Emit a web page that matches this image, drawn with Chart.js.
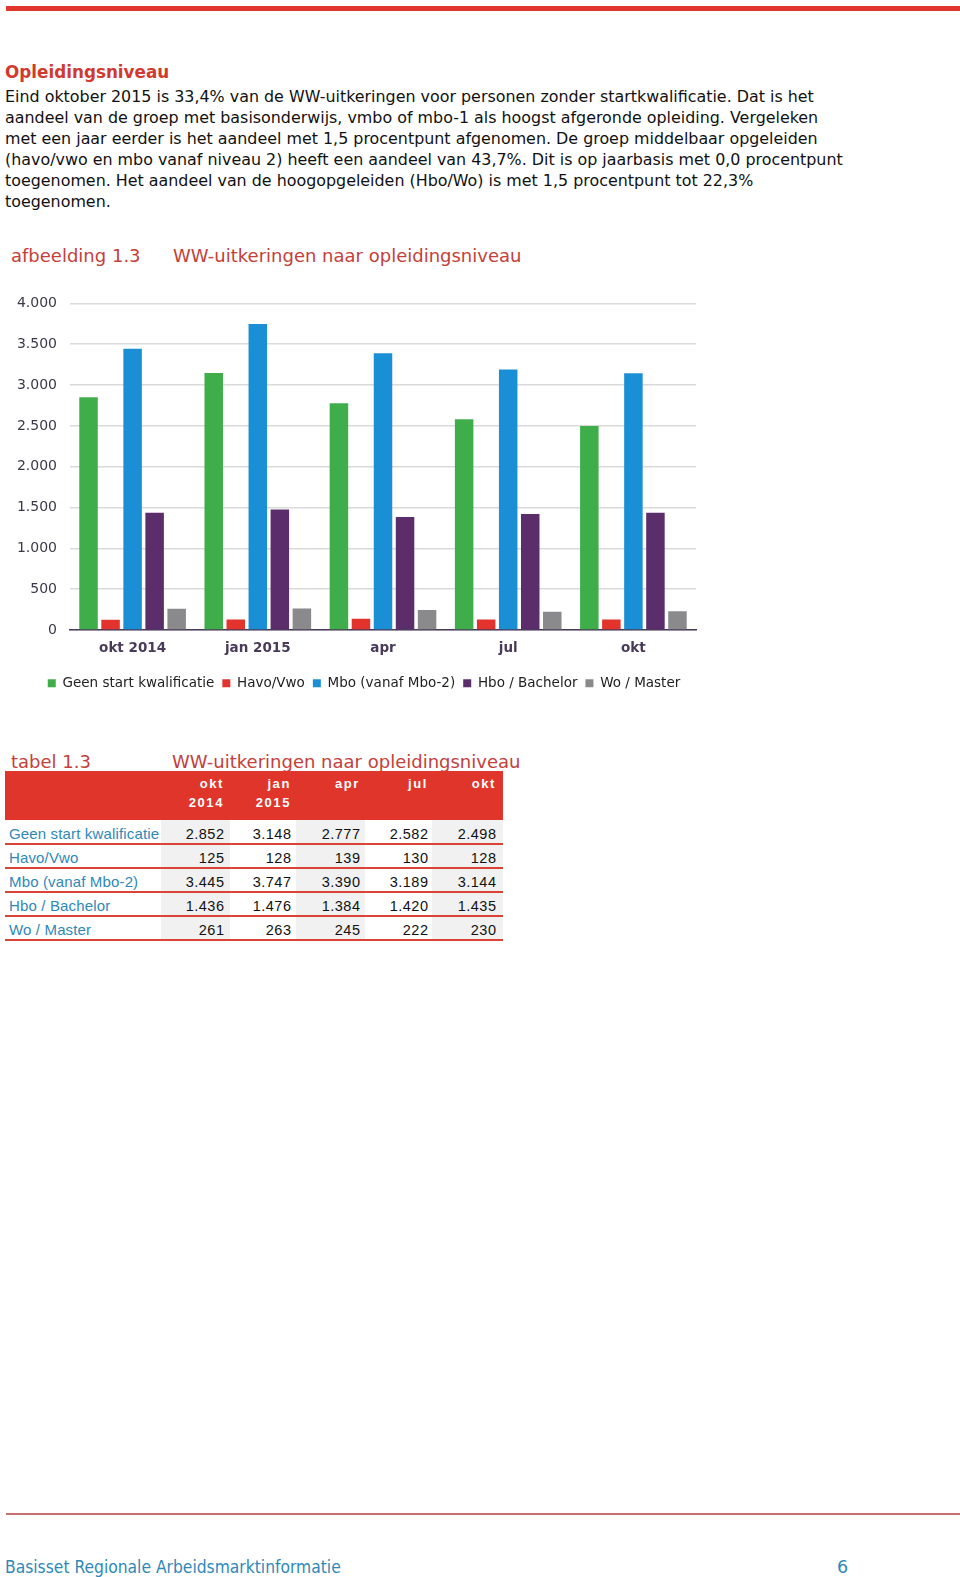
<!DOCTYPE html>
<html>
<head>
<meta charset="utf-8">
<script src="https://cdn.jsdelivr.net/npm/chart.js@4/dist/chart.umd.min.js"></script>
<style>
  html, body { margin:0; padding:0; background:#fff; }
  body { width:960px; height:1577px; position:relative; overflow:hidden; }
  .abs { position:absolute; white-space:nowrap; }
  #topbar { left:6px; top:6px; width:954px; height:5px; background:#e0362c; }
  #heading { left:5px; top:62px; font:bold 16.8px "DejaVu Sans",sans-serif; color:#d13a2e; line-height:21px; }
  #para { left:5px; top:87px; font:15.9px "DejaVu Sans",sans-serif; color:#111; line-height:20.9px; }
  .ctitle { font:18px "DejaVu Sans",sans-serif; color:#c4403a; line-height:20px; }
  #chartWrap { left:0px; top:282px; width:724px; height:418px; }
  #tbl { left:5px; top:771px; width:498px; }
  .hdr { position:absolute; left:0; top:0; width:498px; height:49px; background:#e0352b; }
  .hcell { position:absolute; color:#fff; font:bold 13px "Liberation Sans",Arial,sans-serif; letter-spacing:1.6px; text-align:right; line-height:19px; }
  .rline { position:absolute; left:0; width:498px; height:2px; background:#d9433a; }
  .lab { position:absolute; left:4px; font:15px "Liberation Sans",Arial,sans-serif; letter-spacing:0.15px; color:#2f88b8; line-height:24px; }
  .num { position:absolute; font:14.5px "Liberation Sans",Arial,sans-serif; color:#111; text-align:right; line-height:24px; letter-spacing:0.5px; }
  .gray { position:absolute; background:#f1f1f1; }
  #footline { left:6px; top:1513px; width:954px; height:2px; background:#c9706e; }
  #foot { left:5px; top:1556px; font:17.3px "DejaVu Sans Condensed","DejaVu Sans",sans-serif; color:#2f88b8; line-height:22px; }
  #pnum { left:837px; top:1556px; font:17.5px "DejaVu Sans",sans-serif; color:#2f88b8; line-height:22px; }
</style>
</head>
<body>
<script>
// ---- data ----
const categories = ['okt 2014', 'jan 2015', 'apr', 'jul', 'okt'];
const headerLabels = [['okt', '2014'], ['jan', '2015'], ['apr', ''], ['jul', ''], ['okt', '']];
const seriesNames = ['Geen start kwalificatie', 'Havo/Vwo', 'Mbo (vanaf Mbo-2)', 'Hbo / Bachelor', 'Wo / Master'];
const geenStart = [2852, 3148, 2777, 2582, 2498];
const havoVwo = [125, 128, 139, 130, 128];
const mbo = [3445, 3747, 3390, 3189, 3144];
const hboBachelor = [1436, 1476, 1384, 1420, 1435];
const woMaster = [261, 263, 245, 222, 230];
const yTicks = [0, 500, 1000, 1500, 2000, 2500, 3000, 3500, 4000];
</script>

<div class="abs" id="topbar"></div>
<div class="abs" id="heading">Opleidingsniveau</div>
<div class="abs" id="para">Eind oktober 2015 is 33,4% van de WW-uitkeringen voor personen zonder startkwalificatie. Dat is het<br>aandeel van de groep met basisonderwijs, vmbo of mbo-1 als hoogst afgeronde opleiding. Vergeleken<br>met een jaar eerder is het aandeel met 1,5 procentpunt afgenomen. De groep middelbaar opgeleiden<br>(havo/vwo en mbo vanaf niveau 2) heeft een aandeel van 43,7%. Dit is op jaarbasis met 0,0 procentpunt<br>toegenomen. Het aandeel van de hoogopgeleiden (Hbo/Wo) is met 1,5 procentpunt tot 22,3%<br>toegenomen.</div>

<div class="abs ctitle" style="left:11px; top:246px;">afbeelding 1.3</div>
<div class="abs ctitle" style="left:173px; top:246px;">WW-uitkeringen naar opleidingsniveau</div>

<div class="abs" id="chartWrap"><canvas id="c" width="724" height="418"></canvas></div>

<div class="abs ctitle" style="left:11px; top:752px;">tabel 1.3</div>
<div class="abs ctitle" style="left:172px; top:752px;">WW-uitkeringen naar opleidingsniveau</div>
<div class="abs" id="tbl"></div>

<div class="abs" id="footline"></div>
<div class="abs" id="foot">Basisset Regionale Arbeidsmarktinformatie</div>
<div class="abs" id="pnum">6</div>

<script>
const colors = ['#3fae4a', '#e2342c', '#1b8fd5', '#5c2d6b', '#8a8a8c'];
const allSeries = [geenStart, havoVwo, mbo, hboBachelor, woMaster];

function fmt(v) {
  return String(v).replace(/\B(?=(\d{3})+(?!\d))/g, '.');
}

// ---- table ----
const tbl = document.getElementById('tbl');
const colRight = [219, 286, 355, 423, 491];
const colBounds = [[156, 225], [225, 291], [291, 360], [360, 427], [427, 498]];
let html = '<div class="hdr"></div>';
headerLabels.forEach((h, i) => {
  html += '<div class="hcell" style="right:' + (498 - colRight[i]) + 'px; top:3px;">' + h[0] + '<br>' + h[1] + '</div>';
});
[0, 2, 4].forEach(ci => {
  html += '<div class="gray" style="left:' + colBounds[ci][0] + 'px; width:' + (colBounds[ci][1] - colBounds[ci][0]) + 'px; top:49px; height:120px;"></div>';
});
seriesNames.forEach((name, r) => {
  const top = 51 + r * 24;
  html += '<div class="lab" style="top:' + top + 'px;">' + name + '</div>';
  allSeries[r].forEach((v, ci) => {
    html += '<div class="num" style="top:' + top + 'px; right:' + (498 - colRight[ci] - 0.5) + 'px;">' + fmt(v) + '</div>';
  });
  html += '<div class="rline" style="top:' + (top + 21) + 'px;"></div>';
});
tbl.innerHTML = html;

// ---- chart ----
const legendShift = {
  id: 'legendShift',
  afterLayout(chart) {
    const l = chart.legend;
    if (l) { l.left += 7.5; l.right += 7.5; }
  }
};

const ctx = document.getElementById('c').getContext('2d');
new Chart(ctx, {
  type: 'bar',
  data: {
    labels: categories,
    datasets: seriesNames.map((n, i) => ({
      label: n,
      data: allSeries[i],
      backgroundColor: colors[i],
      borderWidth: 0,
      barPercentage: 0.84,
      categoryPercentage: 0.88
    }))
  },
  plugins: [legendShift],
  options: {
    responsive: false,
    animation: false,
    devicePixelRatio: 1,
    layout: { padding: { left: 17, right: 28, top: 5, bottom: 0 } },
    plugins: {
      tooltip: { enabled: false },
      legend: {
        position: 'bottom',
        labels: {
          boxWidth: 8,
          boxHeight: 8,
          padding: 8,
          color: '#222',
          font: { family: 'DejaVu Sans', size: 13.5 }
        }
      }
    },
    scales: {
      x: {
        grid: { display: false, drawTicks: false },
        border: { display: true, color: '#4a3a5a', width: 1.5 },
        ticks: {
          color: '#4a3a5a',
          padding: 10,
          font: { family: 'DejaVu Sans', size: 13.5, weight: 'bold' }
        },
        afterFit: s => { s.height = 38.5; }
      },
      y: {
        min: 0,
        max: 4000,
        afterBuildTicks: s => { s.ticks = yTicks.map(v => ({ value: v })); },
        grid: { color: '#dadada', lineWidth: 1.5, drawTicks: false },
        border: { display: false },
        ticks: {
          color: '#3b3848',
          padding: 13,
          font: { family: 'DejaVu Sans', size: 14 },
          callback: v => fmt(v)
        },
        afterFit: s => { s.width = 53; }
      }
    }
  }
});
</script>
</body>
</html>
